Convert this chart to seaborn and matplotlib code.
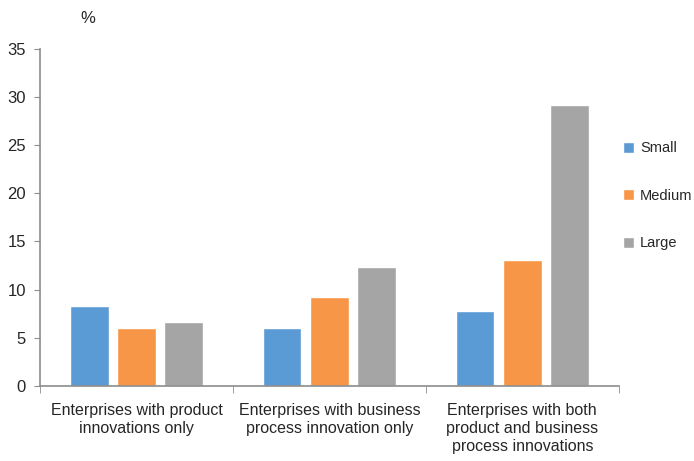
import numpy as np
import pandas as pd
import matplotlib
matplotlib.use("Agg")
import matplotlib.pyplot as plt
import seaborn as sns

# values (%)
categories = [
    "Enterprises with product\ninnovations only",
    "Enterprises with business\nprocess innovation only",
    "Enterprises with both\nproduct and business\nprocess innovations",
]
sizes = ["Small", "Medium", "Large"]
small = [8.3, 6.0, 7.8]
medium = [6.0, 9.2, 13.1]
large = [6.65, 12.3, 29.2]
colors = ["#5B9BD5", "#F79646", "#A5A5A5"]

df = pd.DataFrame({
    "category": categories * 3,
    "size": [s for s in sizes for _ in categories],
    "value": small + medium + large,
})

sns.set_style("white")
plt.rcParams["font.family"] = ["Liberation Sans", "DejaVu Sans"]

fig = plt.figure(figsize=(6.94, 4.61), dpi=100)
ax = fig.add_axes([0.0576, 0.163, 0.834, 0.731])

sns.barplot(data=df, x="category", y="value", hue="size", order=categories,
            hue_order=sizes, palette=colors, width=0.735, gap=0.18,
            saturation=1, ax=ax, errorbar=None)

ax.set_xlim(-0.5, 2.5)
ax.set_ylim(0, 35)
ax.set_yticks(np.arange(0, 36, 5))
ax.set_xlabel("")
ax.set_ylabel("")

axis_col = "#8C8C8C"
for side in ["top", "right"]:
    ax.spines[side].set_visible(False)
for side in ["left", "bottom"]:
    ax.spines[side].set_color(axis_col)
    ax.spines[side].set_linewidth(1.2)

ax.tick_params(axis="y", which="major", left=True, length=4, color=axis_col,
               labelsize=12, pad=6)
ax.tick_params(axis="x", which="major", bottom=False, labelsize=11.5, pad=9)
for lbl in ax.get_xticklabels():
    lbl.set_linespacing(1.25)
ax.set_xticks([-0.5, 0.5, 1.5, 2.5], minor=True)
ax.tick_params(axis="x", which="minor", bottom=True, length=5, color=axis_col)

fig.text(0.127, 0.96, "%", fontsize=12, ha="center", va="center")

handles, labels = ax.get_legend_handles_labels()
ax.get_legend().remove()
fig.legend(handles, labels, loc="center left", bbox_to_anchor=(0.897, 0.575),
           frameon=False, fontsize=10.5, handlelength=0.8, handleheight=0.8,
           handletextpad=0.4, labelspacing=2.3, borderpad=0,
           borderaxespad=0)

plt.savefig("out.png", dpi=100)
plt.close()
